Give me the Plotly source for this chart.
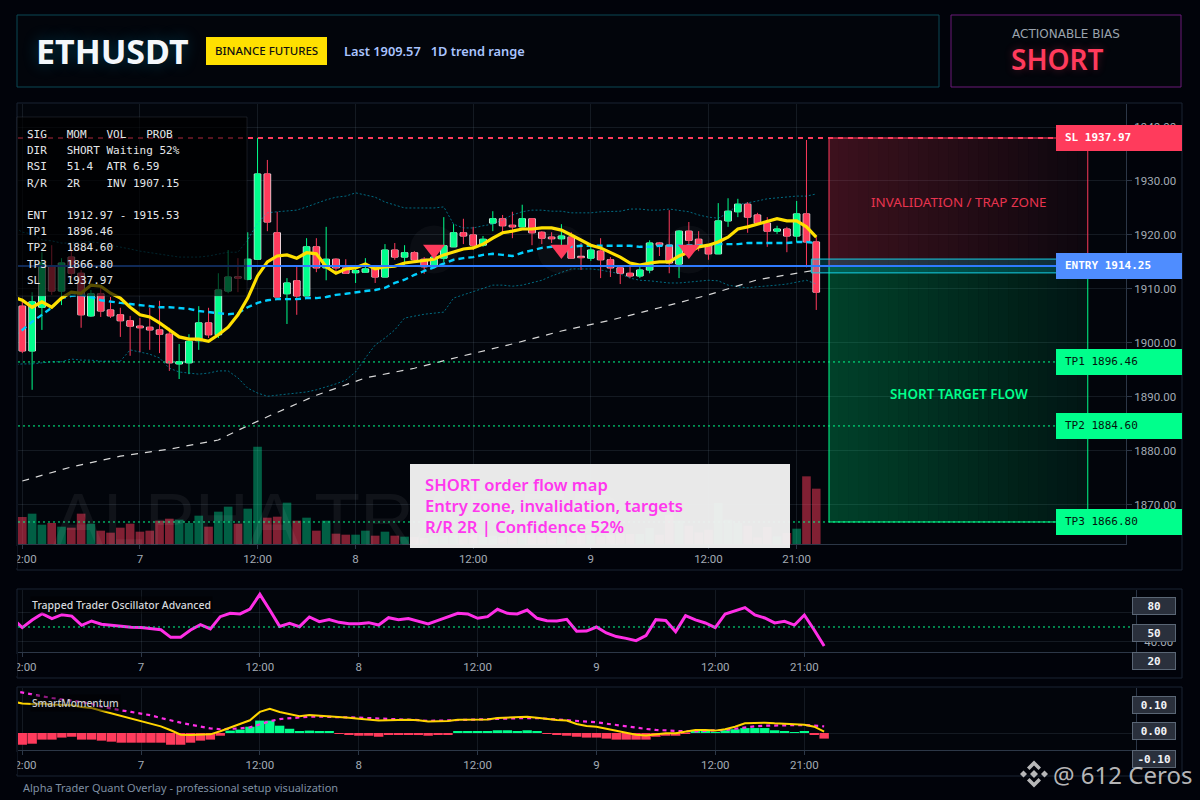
import plotly.graph_objects as go

# CANDLES (bar index 0..81, 1h bars)
opens = [1906.8, 1898.5, 1906.6, 1914.1, 1909.6, 1915.9, 1912.9, 1905.0, 1909.1, 1906.1,
         1905.2, 1904.1, 1903.1, 1902.9, 1902.4, 1901.6, 1896.1, 1896.3, 1900.4, 1903.7,
         1901.5, 1909.6, 1912.2, 1911.8, 1915.5, 1931.3, 1920.4, 1909.1, 1911.5, 1908.7,
         1917.8, 1913.9, 1915.5, 1913.9, 1913.0, 1913.1, 1913.9, 1912.2, 1917.2, 1915.9,
         1916.7, 1915.5, 1914.1, 1915.7, 1917.8, 1920.4, 1920.0, 1918.1, 1922.2, 1923.0,
         1921.8, 1921.5, 1923.0, 1920.5, 1919.6, 1919.3, 1919.6, 1915.9, 1915.7, 1917.0,
         1915.4, 1913.9, 1912.9, 1912.4, 1913.5, 1918.5, 1918.1, 1914.6, 1920.7, 1919.2,
         1918.1, 1916.5, 1922.6, 1924.3, 1925.7, 1923.7, 1922.2, 1920.7, 1921.1, 1919.8,
         1923.9, 1918.7]
closes = [1898.5, 1907.6, 1914.8, 1909.6, 1914.8, 1912.9, 1905.2, 1909.1, 1905.9, 1905.0,
          1904.1, 1903.1, 1902.8, 1902.4, 1901.6, 1896.3, 1896.5, 1900.3, 1903.7, 1901.5,
          1909.8, 1912.2, 1912.0, 1915.5, 1931.3, 1922.4, 1908.5, 1911.1, 1908.7, 1917.8,
          1913.9, 1915.5, 1913.9, 1912.9, 1913.4, 1913.7, 1912.2, 1917.2, 1915.9, 1916.7,
          1915.4, 1914.1, 1915.9, 1918.0, 1920.4, 1919.8, 1918.1, 1919.2, 1923.0, 1921.7,
          1921.5, 1923.0, 1920.4, 1919.4, 1919.3, 1919.8, 1915.7, 1915.8, 1917.2, 1915.4,
          1913.9, 1912.9, 1912.4, 1913.5, 1918.5, 1918.1, 1914.8, 1920.7, 1919.0, 1917.8,
          1916.5, 1922.6, 1924.4, 1925.7, 1923.3, 1922.2, 1920.7, 1921.1, 1919.8, 1923.9,
          1918.7, 1909.4]
highs = [1908.0, 1909.4, 1916.8, 1918.1, 1915.7, 1917.8, 1913.5, 1909.8, 1910.2, 1908.5,
         1906.5, 1905.0, 1904.6, 1906.5, 1907.8, 1902.8, 1899.8, 1901.6, 1906.8, 1906.5,
         1912.9, 1917.2, 1915.7, 1920.5, 1938.0, 1933.9, 1924.3, 1912.0, 1914.4, 1919.4,
         1919.4, 1921.5, 1915.7, 1915.5, 1914.4, 1915.7, 1914.1, 1918.3, 1918.5, 1918.1,
         1917.0, 1915.9, 1916.0, 1923.3, 1922.0, 1923.0, 1921.5, 1919.8, 1924.4, 1923.7,
         1924.3, 1925.6, 1923.1, 1920.7, 1920.5, 1922.0, 1920.5, 1918.5, 1918.1, 1919.4,
         1915.9, 1914.4, 1914.4, 1914.4, 1919.0, 1918.7, 1924.6, 1920.9, 1922.4, 1920.7,
         1918.3, 1925.9, 1926.8, 1926.7, 1926.1, 1924.1, 1923.3, 1921.7, 1921.5, 1926.3,
         1937.6, 1919.6]
lows = [1898.1, 1891.3, 1902.4, 1908.9, 1907.0, 1912.0, 1902.8, 1904.8, 1904.8, 1904.6,
        1901.1, 1897.6, 1898.3, 1898.7, 1898.1, 1894.8, 1893.3, 1894.2, 1898.7, 1900.9,
        1900.9, 1909.2, 1909.4, 1911.6, 1915.5, 1920.7, 1908.5, 1903.5, 1905.2, 1908.7,
        1913.1, 1911.6, 1913.1, 1912.8, 1911.1, 1913.0, 1911.1, 1912.2, 1915.4, 1914.1,
        1915.0, 1912.8, 1913.8, 1915.0, 1917.8, 1918.3, 1917.2, 1917.8, 1920.7, 1920.4,
        1919.4, 1921.5, 1918.1, 1918.3, 1918.5, 1917.4, 1915.7, 1913.5, 1915.2, 1912.0,
        1912.2, 1910.9, 1912.0, 1912.0, 1912.9, 1916.1, 1912.9, 1912.0, 1916.3, 1917.0,
        1915.4, 1916.5, 1921.5, 1923.3, 1920.4, 1922.0, 1917.8, 1920.2, 1916.8, 1918.7,
        1914.0, 1906.1]
volumes = [81, 91, 58, 63, 52, 49, 91, 61, 40, 34, 49, 61, 37, 40, 70, 76, 73, 63, 85, 52,
           97, 112, 61, 106, 292, 79, 82, 124, 70, 79, 40, 70, 31, 28, 28, 40, 25, 37, 25, 22,
           21, 18, 23, 25, 28, 28, 28, 28, 25, 21, 28, 28, 28, 28, 28, 23, 23, 28, 28, 23,
           28, 30, 30, 30, 48, 28, 88, 70, 55, 35, 43, 123, 73, 63, 55, 20, 51, 23, 33, 46,
           203, 166]

# LINES (bar index -1..81)
ema_fast = [1908.5, 1907.9, 1906.6, 1907.6, 1906.6, 1908.3, 1909.4, 1909.2, 1910.7, 1910.5,
            1909.2, 1908.3, 1906.6, 1905.2, 1904.8, 1903.7, 1902.4, 1901.1, 1900.7, 1900.7,
            1900.3, 1901.5, 1902.9, 1905.2, 1908.3, 1912.4, 1915.0, 1916.1, 1916.3, 1915.7,
            1916.7, 1916.5, 1914.1, 1912.9, 1913.7, 1913.9, 1914.6, 1913.7, 1914.1, 1914.2,
            1914.8, 1915.0, 1915.2, 1915.5, 1916.3, 1916.8, 1917.4, 1917.6, 1918.3, 1919.4,
            1920.4, 1920.7, 1921.1, 1921.1, 1921.3, 1921.3, 1920.9, 1920.0, 1919.1, 1918.1,
            1917.6, 1916.8, 1915.9, 1914.8, 1914.4, 1914.8, 1915.0, 1915.0, 1916.1, 1916.8,
            1917.8, 1918.1, 1918.7, 1919.6, 1921.1, 1921.5, 1922.0, 1922.4, 1923.0, 1922.6,
            1922.6, 1921.5, 1919.6]
ema_mid = [1901.5, 1902.4, 1903.9, 1905.2, 1906.5, 1908.3, 1908.7, 1908.9, 1908.5, 1907.9,
           1907.6, 1907.4, 1907.2, 1907.0, 1906.8, 1906.6, 1906.6, 1906.5, 1906.3, 1905.9,
           1905.7, 1905.5, 1905.3, 1905.5, 1906.6, 1907.4, 1907.9, 1908.1, 1908.1, 1908.1,
           1908.3, 1908.3, 1908.5, 1908.9, 1909.1, 1909.4, 1909.6, 1909.8, 1910.2, 1911.1,
           1911.7, 1912.6, 1913.3, 1914.1, 1914.8, 1915.4, 1915.7, 1915.9, 1916.3, 1916.5,
           1916.3, 1916.1, 1916.7, 1917.2, 1917.6, 1917.8, 1917.8, 1917.8, 1918.0, 1918.0,
           1918.0, 1918.0, 1918.0, 1918.0, 1917.8, 1917.8, 1918.0, 1918.0, 1918.1, 1918.1,
           1918.1, 1918.1, 1918.3, 1918.3, 1918.3, 1918.5, 1918.5, 1918.5, 1918.5, 1918.5,
           1918.7, 1918.7, 1918.5]
bb_upper = [1921.7, 1920.5, 1920.2, 1919.1, 1918.9, 1918.5, 1918.5, 1918.7, 1918.7, 1918.5,
            1918.1, 1917.8, 1917.4, 1917.0, 1916.7, 1916.5, 1916.1, 1915.9, 1915.9, 1915.9,
            1916.1, 1916.5, 1916.8, 1916.8, 1919.1, 1922.2, 1924.1, 1924.3, 1924.4, 1924.6,
            1925.2, 1925.9, 1926.5, 1927.0, 1927.2, 1927.8, 1927.4, 1927.0, 1926.1, 1925.6,
            1925.0, 1925.0, 1925.0, 1925.0, 1925.2, 1922.0, 1921.3, 1921.3, 1921.7, 1922.0,
            1922.8, 1923.7, 1924.3, 1924.6, 1924.6, 1924.4, 1924.4, 1924.1, 1924.1, 1924.1,
            1924.3, 1924.3, 1924.4, 1924.8, 1924.8, 1924.6, 1924.6, 1924.8, 1924.6, 1924.3,
            1923.7, 1923.3, 1923.1, 1924.1, 1925.6, 1925.9, 1926.3, 1926.7, 1926.9, 1927.0,
            1927.2, 1927.2, 1927.6]
bb_lower = [1895.9, 1896.1, 1896.1, 1896.3, 1896.5, 1896.5, 1897.0, 1896.8, 1896.8, 1896.6,
            1896.6, 1896.6, 1898.7, 1898.3, 1897.9, 1897.2, 1895.3, 1894.6, 1894.4, 1894.2,
            1894.4, 1894.8, 1894.8, 1893.5, 1891.6, 1890.7, 1890.1, 1890.3, 1890.5, 1890.7,
            1890.9, 1891.3, 1891.8, 1892.4, 1893.1, 1894.6, 1897.2, 1899.6, 1900.9, 1902.4,
            1904.6, 1905.0, 1905.3, 1905.5, 1905.7, 1908.3, 1908.9, 1909.6, 1910.2, 1910.7,
            1910.7, 1910.5, 1910.7, 1911.1, 1911.6, 1912.4, 1913.1, 1913.7, 1913.7, 1913.7,
            1913.5, 1913.1, 1912.8, 1912.0, 1911.6, 1911.5, 1911.3, 1911.1, 1911.1, 1911.3,
            1911.5, 1911.6, 1911.5, 1910.7, 1910.4, 1910.2, 1910.4, 1910.5, 1910.7, 1910.9,
            1911.3, 1911.6, 1910.9]
slow_bars = [0, 5, 10, 15, 20, 22, 25, 30, 35, 40, 45, 50, 55, 60, 65, 70, 75, 80, 81]
ema_slow = [1874.4, 1877.0, 1879.0, 1880.3, 1882.0, 1883.8, 1886.3, 1890.3, 1893.5, 1895.3,
            1897.6, 1899.8, 1902.2, 1904.2, 1906.5, 1908.9, 1911.7, 1913.3, 1913.5]
signal_bars = [42, 55, 68]
signal_prices = [1917.3, 1917.3, 1917.3]

# OSCILLATOR (bar index -1..81)
osc = [55.8, 49.6, 54.7, 58.9, 55.6, 58.2, 57.3, 51.1, 54.0, 51.8, 51.1, 50.4, 49.8, 49.6,
       48.9, 48.2, 43.1, 43.1, 48.0, 51.6, 48.7, 56.9, 59.1, 58.7, 62.0, 71.8, 61.3, 50.4,
       52.4, 50.2, 56.7, 53.6, 54.9, 53.1, 52.2, 52.2, 52.9, 51.3, 56.2, 54.9, 55.6, 54.0,
       52.0, 54.4, 56.9, 59.1, 58.7, 55.8, 56.9, 61.8, 59.1, 58.7, 61.3, 55.8, 54.2, 54.0,
       55.1, 47.1, 47.3, 50.0, 46.0, 43.6, 42.4, 40.9, 44.2, 54.9, 54.4, 46.9, 57.6, 54.7,
       52.7, 49.6, 58.7, 60.9, 62.9, 58.0, 56.0, 52.7, 53.8, 51.3, 58.0, 48.0, 37.3]

# SMART MOMENTUM
mom_line = [.186, .173, .171, .173, .167, .163, .163, .153, .147, .131, .116, .100, .084, .069,
            .053, .039, .016, -.010, -.012, -.010, -.008, .010, .033, .053, .075, .124, .143,
            .124, .112, .098, .106, .102, .102, .096, .090, .084, .080, .073, .075, .078, .078,
            .075, .067, .069, .071, .078, .078, .078, .080, .088, .092, .094, .096, .090, .082,
            .076, .073, .053, .041, .037, .025, .014, .002, -.010, -.014, -.008, -.002, -.002,
            .010, .018, .018, .014, .022, .037, .057, .061, .061, .057, .053, .049, .049, .037,
            .008]
mom_signal = [.249, .237, .225, .216, .206, .200, .190, .182, .171, .155, .143, .133, .124, .114,
              .104, .088, .073, .061, .049, .037, .027, .022, .024, .027, .033, .053, .069, .082,
              .088, .094, .096, .096, .096, .094, .092, .090, .088, .084, .082, .082, .080, .076,
              .071, .073, .073, .076, .076, .078, .080, .082, .084, .086, .088, .088, .084, .082,
              .078, .073, .067, .063, .055, .047, .039, .029, .024, .018, .014, .010, .010, .010,
              .012, .014, .018, .025, .033, .039, .043, .045, .047, .047, .047, .043, .039]
mom_hist = [-.069, -.063, -.039, -.039, -.027, -.022, -.039, -.039, -.045, -.051,
            -.057, -.057, -.057, -.057, -.057, -.069, -.069, -.057, -.045, -.039,
            -.016, .014, .020, .037, .073, .073, .043, .025, .008, .014,
            .008, .008, -.004, -.010, -.016, -.016, -.022, -.010, -.010, -.010,
            -.012, -.016, -.010, -.010, .010, .010, .010, .010, .016, .016,
            .010, .016, .010, -.004, -.010, -.016, -.022, -.027, -.027, -.033,
            -.039, -.039, -.039, -.039, -.022, -.016, -.016, -.004, .010, .010,
            .004, .016, .022, .029, .029, .029, .016, .010, .004, .010,
            -.010, -.033]

# LEVELS AND TICKS
entry_low, entry, entry_high = 1912.97, 1914.25, 1915.53
stop = 1937.97
tp1, tp2, tp3 = 1896.46, 1884.60, 1866.80
tick_bars = [0, 12, 24, 34, 46, 58, 70, 79]
tick_text = ["12:00", "7", "12:00", "8", "12:00", "9", "12:00", "21:00"]
price_ticks = [1870, 1880, 1890, 1900, 1910, 1920, 1930, 1940]
table_rows = ["SIG   MOM   VOL   PROB", "DIR   SHORT Waiting 52%", "RSI   51.4  ATR 6.59",
              "R/R   2R    INV 1907.15", "", "ENT   1912.97 - 1915.53", "TP1   1896.46",
              "TP2   1884.60", "TP3   1866.80", "SL    1937.97"]
table_y = [134, 150, 166, 183, 199, 215, 231, 247, 264, 280]
note_rows = ["SHORT order flow map", "Entry zone, invalidation, targets", "R/R 2R | Confidence 52%"]

# COLOURS
RED = "#ff3b5c"
GREEN = "#00ff8c"
BLUE = "#2f7bff"
PAGE = "#01030a"
PANEL = "#02050b"
GRID = "rgba(130,150,170,0.15)"
FRAME = "#1b2533"
AXIS = "#2c3747"
MONO = "DejaVu Sans Mono"
SANS = "Noto Sans"

bars = list(range(82))
line_bars = list(range(-1, 82))


def px(x):
    return x / 1200


def py(y):
    return 1 - y / 800


fig = go.Figure()

# volume sits under the price traces
fig.add_trace(go.Bar(
    x=bars, y=volumes, width=0.88, xaxis="x", yaxis="y",
    marker=dict(color=["rgba(0,255,170,0.36)" if c >= o else "rgba(255,59,92,0.5)"
                       for o, c in zip(opens, closes)], line_width=0),
    hoverinfo="skip",
))
fig.add_trace(go.Scatter(x=line_bars, y=bb_upper, mode="lines", xaxis="x", yaxis="y2",
                         line=dict(color="rgba(0,190,225,0.55)", width=1, dash="2px,2px")))
fig.add_trace(go.Scatter(x=line_bars, y=bb_lower, mode="lines", xaxis="x", yaxis="y2",
                         line=dict(color="rgba(0,190,225,0.55)", width=1, dash="2px,2px")))
fig.add_trace(go.Scatter(x=slow_bars, y=ema_slow, mode="lines", xaxis="x", yaxis="y2",
                         line=dict(color="#d9d9d9", width=1.2, dash="7px,7px")))

# wicks from a candlestick trace, bodies as bars so they can have a pale outline
fig.add_trace(go.Candlestick(
    x=bars, open=opens, high=highs, low=lows, close=closes, xaxis="x", yaxis="y2",
    increasing=dict(line=dict(color=GREEN, width=1), fillcolor=GREEN),
    decreasing=dict(line=dict(color=RED, width=1), fillcolor=RED),
    whiskerwidth=0, hoverinfo="skip",
))
fig.add_trace(go.Bar(
    x=bars, y=[max(abs(c - o), 0.25) for o, c in zip(opens, closes)],
    base=[min(o, c) for o, c in zip(opens, closes)],
    width=0.68, xaxis="x", yaxis="y2", hoverinfo="skip",
    marker=dict(color=[GREEN if c >= o else RED for o, c in zip(opens, closes)],
                line=dict(color="rgba(255,255,255,0.85)", width=1)),
))
fig.add_trace(go.Scatter(x=line_bars, y=ema_mid, mode="lines", xaxis="x", yaxis="y2",
                         line=dict(color="#00cfff", width=2.4, dash="6px,4px")))
fig.add_trace(go.Scatter(x=line_bars, y=ema_fast, mode="lines", xaxis="x", yaxis="y2",
                         line=dict(color="#ffe000", width=3.2)))
fig.add_trace(go.Scatter(x=signal_bars, y=signal_prices, mode="markers", xaxis="x", yaxis="y2",
                         marker=dict(symbol="circle", size=48, color="rgba(255,255,255,0.035)")))
fig.add_trace(go.Scatter(x=signal_bars, y=signal_prices, mode="markers", xaxis="x", yaxis="y2",
                         marker=dict(symbol="triangle-down", size=19, color=RED)))

# oscillator pane
fig.add_trace(go.Scatter(x=line_bars, y=osc, mode="lines", xaxis="x2", yaxis="y3",
                         line=dict(color="#ff2ee6", width=3)))

# momentum pane
fig.add_trace(go.Bar(x=bars, y=mom_hist, width=0.95, xaxis="x3", yaxis="y4", hoverinfo="skip",
                     marker=dict(color=[GREEN if v >= 0 else RED for v in mom_hist], line_width=0)))
fig.add_trace(go.Scatter(x=line_bars, y=mom_signal, mode="lines", xaxis="x3", yaxis="y4",
                         line=dict(color="#ff2ee6", width=2.2, dash="4px,4px")))
fig.add_trace(go.Scatter(x=line_bars, y=mom_line, mode="lines", xaxis="x3", yaxis="y4",
                         line=dict(color="#ffd400", width=2)))

shapes = []
annotations = []


def box(x0, y0, x1, y1, fill="rgba(0,0,0,0)", line=None, width=1):
    shapes.append(dict(type="rect", xref="paper", yref="paper", x0=px(x0), x1=px(x1),
                       y0=py(y0), y1=py(y1), fillcolor=fill,
                       line=dict(color=line or "rgba(0,0,0,0)", width=width if line else 0)))


def label(x, y, text, size, color, family=SANS, anchor="left", weight="normal", **kw):
    annotations.append(dict(xref="paper", yref="paper", x=px(x), y=py(y), text=text,
                            showarrow=False, xanchor=anchor, yanchor="middle",
                            font=dict(size=size, color=color, family=family, weight=weight), **kw))


# pane frames
box(17, 15, 939, 87, PANEL, "#0b4854")
box(951, 15, 1181, 87, PANEL, "#6a1a78")
box(17, 103, 1182, 570, "rgba(0,0,0,0)", FRAME)
box(17, 589, 1182, 678, "rgba(0,0,0,0)", FRAME)
box(17, 687, 1182, 776, "rgba(0,0,0,0)", FRAME)

# left edge cut: the first time label is clipped by the pane
box(0, 546, 17, 568, PAGE)
box(0, 654, 17, 676, PAGE)
box(0, 752, 17, 774, PAGE)

# trade zones, horizontal fade in slices
zone_left, zone_right = 82.3, 108.7
slices = 26
for k in range(slices):
    x0 = zone_left + (zone_right - zone_left) * k / slices
    x1 = zone_left + (zone_right - zone_left) * (k + 1) / slices
    alpha_red = 0.23 - 0.18 * k / (slices - 1)
    alpha_green = 0.24 - 0.17 * k / (slices - 1)
    shapes.append(dict(type="rect", xref="x", yref="y2", x0=x0, x1=x1, y0=entry, y1=stop,
                       fillcolor=f"rgba(255,59,92,{alpha_red:.3f})", line_width=0))
    shapes.append(dict(type="rect", xref="x", yref="y2", x0=x0, x1=x1, y0=tp3, y1=entry,
                       fillcolor=f"rgba(0,255,140,{alpha_green:.3f})", line_width=0))
shapes.append(dict(type="rect", xref="x", yref="y2", x0=zone_left, x1=zone_right, y0=entry, y1=stop,
                   line=dict(color=RED, width=1)))
shapes.append(dict(type="rect", xref="x", yref="y2", x0=zone_left, x1=zone_right, y0=tp3, y1=entry,
                   line=dict(color=GREEN, width=1)))
shapes.append(dict(type="rect", xref="x", yref="y2", x0=80.5, x1=110, y0=entry_low, y1=entry_high,
                   fillcolor="rgba(0,210,230,0.2)", line=dict(color="#16cfe6", width=1)))

# level lines
level_lines = [(stop, RED, 2, "5px,5px"), (entry, BLUE, 2, "solid"),
               (tp1, GREEN, 1, "2px,3px"), (tp2, GREEN, 1, "2px,3px"), (tp3, GREEN, 1, "2px,3px")]
for level, color, width, dash in level_lines:
    shapes.append(dict(type="line", xref="paper", yref="y2", x0=px(18), x1=px(1056), y0=level, y1=level,
                       line=dict(color=color, width=width, dash=dash)))

# 50 line in the oscillator
shapes.append(dict(type="line", xref="paper", yref="y3", x0=px(18), x1=px(1132), y0=50, y1=50,
                   line=dict(color=GREEN, width=1, dash="2px,3px")))

# stats table over the chart
box(17, 117, 247, 296, "rgba(0,0,0,0.66)", "rgba(90,100,115,0.25)")

# note box over the volume bars
box(410, 464, 790, 548, "rgba(242,242,242,0.96)")

# level tags
level_tags = [(stop, f"SL {stop:.2f}", RED, "#ffffff", "bold"),
              (entry, f"ENTRY {entry:.2f}", "#4f8dff", "#ffffff", "bold"),
              (tp1, f"TP1 {tp1:.2f}", GREEN, "#04140c", "normal"),
              (tp2, f"TP2 {tp2:.2f}", GREEN, "#04140c", "normal"),
              (tp3, f"TP3 {tp3:.2f}", GREEN, "#04140c", "normal")]
for level, text, fill, ink, weight in level_tags:
    shapes.append(dict(type="rect", xref="paper", yref="y2", ysizemode="pixel", yanchor=level,
                       x0=px(1056), x1=px(1182), y0=-13, y1=13, fillcolor=fill, line_width=0))
    annotations.append(dict(xref="paper", yref="y2", x=px(1063), y=level, text=text, showarrow=False,
                            xanchor="left", yanchor="middle",
                            font=dict(size=11, color=ink, family=MONO, weight=weight)))

# header
label(34, 51, "ETHUSDT", 34, "#f4f7fb", weight="bold")
annotations[-1]["font"]["shadow"] = "0 0 16px rgba(0,200,255,0.28)"
box(206, 37, 327, 65, "#ffe000")
label(266.5, 51, "BINANCE FUTURES", 11.5, "#101010", anchor="center", weight=500)
label(342, 51, "Last 1909.57\u00a0\u00a0\u00a01D trend range", 12.8, "#a9c4ff", weight=600)
label(1065.5, 34, "ACTIONABLE BIAS", 12, "#9aa3ad", family="DejaVu Sans", anchor="center")
label(1057.5, 59, "SHORT", 28, RED, anchor="center", weight=600)
annotations[-1]["font"]["shadow"] = "0 0 8px rgba(255,59,92,0.3)"

# watermark
label(51, 519, "ALPHA TRADER", 75, "rgba(255,255,255,0.06)", family="Liberation Sans")

# table text
for row, y in zip(table_rows, table_y):
    if row:
        label(25, y, row.replace(" ", "\u00a0"), 11, "#e4e7ea", family=MONO)

# note text
for row, y in zip(note_rows, [485, 506, 526]):
    label(423, y, row, 16.6, "#ff38ee", weight=600)

# zone titles
label(958.5, 202, "INVALIDATION / TRAP ZONE", 13.4, "#e8344f", anchor="center")
label(958.5, 394, "SHORT TARGET FLOW", 13.4, GREEN, anchor="center", weight=600)

# pane titles
label(30, 605, "Trapped Trader Oscillator Advanced", 10.5, "#d6d9dd", weight=500, bgcolor="rgba(0,0,0,0.45)")
label(30, 703, "SmartMomentum", 10.2, "#c9ccd1", weight=500, bgcolor="rgba(0,0,0,0.45)")
label(21, 787, "Alpha Trader Quant Overlay - professional setup visualization", 11, "#7f90a3")

# right-hand value chips
for y, text in [(606, "80"), (633, "50"), (661, "20"), (705, "0.10"), (731, "0.00"), (759, "-0.10")]:
    label(1154, y, text, 11, "#f2f4f7", family=MONO, anchor="center", weight="bold",
          bgcolor="#2a303c", bordercolor="#5a6675", borderwidth=1, borderpad=0, width=42, height=16)

# repost mark with its logo
logo = [[(1027, 767.5), (1034, 760.5), (1041, 767.5), (1038.5, 770), (1034, 765.5), (1029.5, 770)],
        [(1027, 780.5), (1034, 787.5), (1041, 780.5), (1038.5, 778), (1034, 782.5), (1029.5, 778)],
        [(1034, 770), (1038, 774), (1034, 778), (1030, 774)],
        [(1023.5, 770.5), (1027, 774), (1023.5, 777.5), (1020, 774)],
        [(1044.5, 770.5), (1048, 774), (1044.5, 777.5), (1041, 774)]]
for poly in logo:
    path = "M " + " L ".join(f"{px(x):.5f},{py(y):.5f}" for x, y in poly) + " Z"
    shapes.append(dict(type="path", xref="paper", yref="paper", path=path,
                       fillcolor="rgba(215,215,215,0.85)", line_width=0))
label(1051, 774, "@ 612 Ceros", 24, "rgba(215,215,215,0.85)")

tick_font = dict(size=11.5, color="#a3abb5", family="Roboto")
x_common = dict(tickmode="array", tickvals=tick_bars, ticktext=tick_text, tickfont=tick_font,
                showgrid=True, gridcolor=GRID, gridwidth=1, zeroline=False, showline=True,
                linecolor=AXIS, linewidth=1, ticks="outside", ticklen=4, tickcolor=AXIS)
y_common = dict(side="right", tickfont=tick_font, showgrid=True, gridcolor=GRID, gridwidth=1,
                zeroline=False, showline=True, linecolor=AXIS, linewidth=1, ticks="outside",
                ticklen=5, tickcolor=AXIS, tickformat=".2f", tickmode="array")

fig.update_layout(
    width=1200, height=800, autosize=False, showlegend=False, barmode="overlay",
    margin=dict(l=0, r=0, t=0, b=0, pad=0, autoexpand=False),
    paper_bgcolor=PAGE, plot_bgcolor=PANEL,
    hovermode=False,
    xaxis=dict(domain=[px(18), px(1126)], range=[-0.44, 112.6], anchor="y",
               rangeslider=dict(visible=False), **x_common),
    yaxis=dict(domain=[py(544), py(104)], range=[0, 1320], visible=False, anchor="x", fixedrange=True),
    yaxis2=dict(domain=[py(544), py(104)], range=[1862.72, 1944.27], overlaying="y", anchor="x",
                tickvals=price_ticks, **y_common),
    xaxis2=dict(domain=[px(18), px(1136)], range=[-0.43, 112.5], anchor="y3", **x_common),
    yaxis3=dict(domain=[py(652), py(590)], range=[33.3, 74.7], anchor="x2",
                tickvals=[40, 60], ticktext=["40.00", ""], **y_common),
    xaxis3=dict(domain=[px(18), px(1136)], range=[-0.43, 112.5], anchor="y4", **x_common),
    yaxis4=dict(domain=[py(750), py(688)], range=[-0.1, 0.2647], anchor="x3",
                tickvals=[0], ticktext=[""], **y_common),
    shapes=shapes,
    annotations=annotations,
)

fig.write_html("out.html", config={"displayModeBar": False},
               post_script="document.body.style.margin='0';document.body.style.background='#01030a';")
